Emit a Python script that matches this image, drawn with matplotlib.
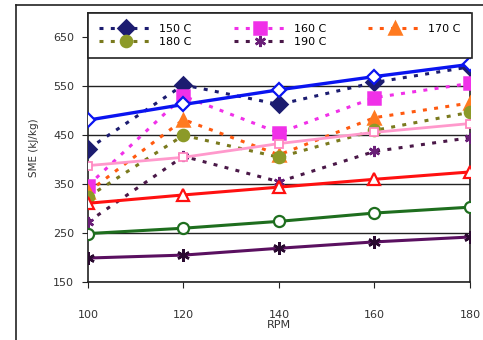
import matplotlib.pyplot as plt
from matplotlib.lines import Line2D

# RPM values on the x axis
rpm = [100, 120, 140, 160, 180]

# measured SME (kJ/kg), dotted series
sme_150 = [422, 553, 513, 558, 590]
sme_160 = [347, 530, 455, 527, 556]
sme_170 = [334, 482, 410, 486, 516]
sme_180 = [324, 450, 405, 460, 497]
sme_190 = [273, 407, 355, 417, 445]

# solid trend lines
fit_150 = [481, 513, 543, 570, 595]
fit_160 = [388, 405, 433, 456, 474]
fit_170 = [311, 328, 344, 360, 375]
fit_180 = [249, 260, 274, 291, 303]
fit_190 = [199, 205, 219, 232, 242]

labels = ["150 C", "160 C", "170 C", "180 C", "190 C"]
yticks = [150, 250, 350, 450, 550, 650]

fig = plt.figure(figsize=(4.83, 3.4), dpi=100)
ax = fig.add_axes([88 / 483, 1 - 282 / 340, 382 / 483, 269 / 340])

# outer frame
fig.add_artist(Line2D([16 / 483, 16 / 483], [0, 1 - 5 / 340], color="#222222", lw=1.2))
fig.add_artist(Line2D([16 / 483, 1], [1 - 5 / 340, 1 - 5 / 340], color="#222222", lw=1.2))

dot = (0, (1.3, 2.4))
dotted = [
    (sme_150, "#1c1c70", "D", "#1c1c70"),
    (sme_160, "#f030e8", "s", "#f030e8"),
    (sme_170, "#ff5a10", "^", "#ff7a20"),
    (sme_180, "#7a7a1e", "o", "#8c9a28"),
    (sme_190, "#4a1848", (6, 2, 0), "#6a1f78"),
]
handles = []
for (vals, col, mk, fc), lab in zip(dotted, labels):
    h, = ax.plot(rpm, vals, linestyle=dot, lw=2.2, color=col, marker=mk,
                 markersize=8, markerfacecolor=fc, markeredgecolor=fc,
                 markeredgewidth=1.8, label=lab, zorder=3)
    handles.append(h)

ax.plot(rpm, fit_160, color="#ff99cc", lw=2, marker="s", markersize=6,
        markerfacecolor="white", markeredgecolor="#ff88c0", markeredgewidth=1.3, zorder=4)
ax.plot(rpm, fit_150, color="#0a14f0", lw=2.4, marker="D", markersize=7,
        markerfacecolor="white", markeredgecolor="#0a14f0", markeredgewidth=1.6, zorder=4)
ax.plot(rpm, fit_170, color="#ff1010", lw=2.2, marker="^", markersize=8,
        markerfacecolor="white", markeredgecolor="#ff1010", markeredgewidth=1.6, zorder=4)
ax.plot(rpm, fit_180, color="#1e6e1e", lw=2.2, marker="o", markersize=8,
        markerfacecolor="white", markeredgecolor="#1e6e1e", markeredgewidth=1.6, zorder=4)
ax.plot(rpm, fit_190, color="#5a1060", lw=2.2, marker=(6, 2, 0), markersize=9,
        markeredgecolor="#2a0a30", markeredgewidth=1.8, zorder=4)

ax.set_xlim(100, 180)
ax.set_ylim(150, 700)
ax.set_xticks(rpm)
ax.set_yticks(yticks)
ax.yaxis.grid(True, color="#222222", lw=1.0)
ax.set_axisbelow(True)
for s in ax.spines.values():
    s.set_color("#222222")
    s.set_linewidth(1.2)
ax.tick_params(axis="x", direction="out", length=4, pad=16, labelsize=8, colors="#222222")
ax.tick_params(axis="y", direction="out", length=4, pad=6, labelsize=8, colors="#222222")
for s in ax.get_xticklabels() + ax.get_yticklabels():
    s.set_color("#333333")
ax.set_xlabel("RPM", fontsize=8, color="#333333", labelpad=0)
ax.set_ylabel("SME (kJ/kg)", fontsize=7.5, color="#333333", labelpad=10)

order = [0, 3, 1, 4, 2]
leg = ax.legend([handles[i] for i in order], [labels[i] for i in order], ncol=3,
                loc="upper left", bbox_to_anchor=(0, 0.836, 1.005, 0.164), mode="expand",
                borderaxespad=0, fontsize=8, handlelength=4.8, handletextpad=0.6,
                labelspacing=0.25, borderpad=1.0, fancybox=False, framealpha=1,
                edgecolor="#222222")
leg.get_frame().set_linewidth(1.2)
leg.set_zorder(10)

fig.savefig("out.png", dpi=100)
